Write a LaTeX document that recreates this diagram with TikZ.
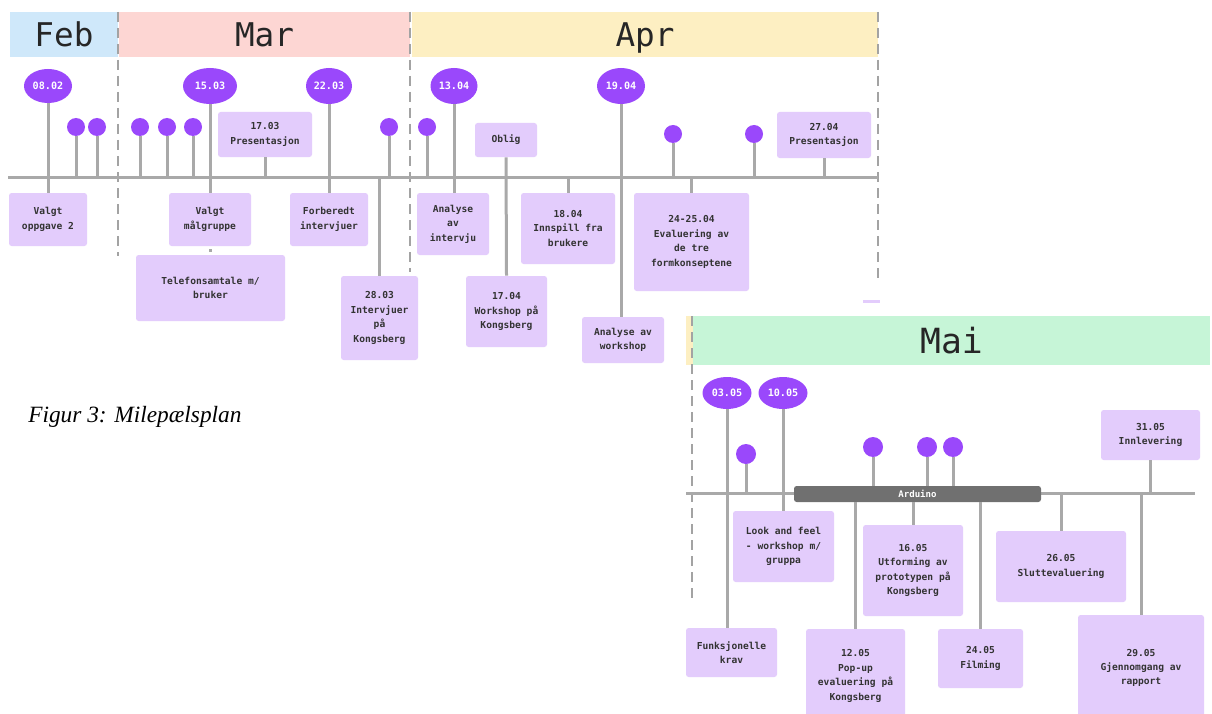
\documentclass[tikz,border=0pt]{standalone}
\usepackage{fontspec}
\setmainfont{Liberation Serif}
\newfontfamily\mono{DejaVu Sans Mono}
\usetikzlibrary{shapes.geometric}
\definecolor{evt}{HTML}{9A48FB}
\definecolor{boxc}{HTML}{E3CCFC}
\definecolor{txt}{HTML}{333333}
\definecolor{mtxt}{HTML}{262626}
\definecolor{lc}{HTML}{A9A9A9}
\definecolor{dc}{HTML}{A3A3A3}
\definecolor{febc}{HTML}{CFE8FA}
\definecolor{marc}{HTML}{FDD6D3}
\definecolor{aprc}{HTML}{FDEFC2}
\definecolor{maic}{HTML}{C6F5D7}
\definecolor{ardc}{HTML}{707070}
\begin{document}
\begin{tikzpicture}[x=0.75pt,y=-0.75pt,
 sz/.style 2 args={minimum width=#1*0.75pt, minimum height=#2*0.75pt},
 box/.style={fill=boxc, rounded corners=2pt, inner sep=0pt, align=center, font=\mono\bfseries\fontsize{7.2}{10.8}\selectfont, text=txt},
 month/.style={inner sep=0pt, text depth=0pt, font=\mono\fontsize{24.5}{24.5}\selectfont, text=mtxt},
 dt/.style={ellipse, fill=evt, inner sep=0pt, text=white, font=\mono\bfseries\fontsize{7.6}{8}\selectfont},
 dot/.style={circle, fill=evt, minimum size=13.5pt, inner sep=0pt},
 stem/.style={draw=lc, line width=2.25pt},
 sep/.style={draw=dc, line width=2pt, dash pattern=on 7.5pt off 4.5pt},
]
\clip (0,0) rectangle (1212,713);
\fill[white] (0,0) rectangle (1212,713);

% ---------- month bars (top) ----------
\node[month, fill=febc, sz={108}{45}] (feb) at (64,34.5) {Feb};
\node[month, fill=marc, sz={291}{45}] (mar) at (264.5,34.5) {Mar};
\node[month, fill=aprc, sz={466}{45}] (apr) at (645,34.5) {Apr};

% separators
\draw[sep] (118,12) -- (118,256);
\draw[sep] (410,12) -- (410,272);
\draw[sep] (878,12) -- (878,280);

% timeline
\coordinate (tlA) at (8,177);
\coordinate (tlB) at (878,177);
\draw[stem] (tlA) -- (tlB);

% ---------- date ellipses (top) ----------
\node[dt, sz={48}{34}] (e0802) at (48,86) {08.02};
\node[dt, sz={54}{36}] (e1503) at (210,86) {15.03};
\node[dt, sz={46}{36}] (e2203) at (329,86) {22.03};
\node[dt, sz={47}{36}] (e1304) at (454,86) {13.04};
\node[dt, sz={48}{36}] (e1904) at (621,86) {19.04};

% small dots (top)
\node[dot] (d1) at (76,127) {};
\node[dot] (d2) at (97,127) {};
\node[dot] (d3) at (140,127) {};
\node[dot] (d4) at (167,127) {};
\node[dot] (d5) at (193,127) {};
\node[dot] (d6) at (389,127) {};
\node[dot] (d7) at (427,127) {};
\node[dot] (d8) at (673,134) {};
\node[dot] (d9) at (754,134) {};

% boxes above line (top)
\node[box, sz={94}{45}] (p1703) at (265,134.5) {17.03\\Presentasjon};
\node[box, sz={62}{34}] (oblig) at (506,140) {Oblig};
\node[box, sz={94}{46}] (p2704) at (824,135) {27.04\\Presentasjon};

% boxes below line (top)
\node[box, sz={78}{53}] (voppg) at (48,219.5) {Valgt\\oppgave 2};
\node[box, sz={82}{53}] (vmal) at (210,219.5) {Valgt\\målgruppe};
\node[box, sz={149}{66}] (tlf) at (210.5,288) {Telefonsamtale m/\\bruker};
\node[box, sz={78}{53}] (forb) at (329,219.5) {Forberedt\\intervjuer};
\node[box, sz={77}{84}] (i2803) at (379.5,318) {28.03\\Intervjuer\\på\\Kongsberg};
\node[box, sz={72}{62}] (aint) at (453,224) {Analyse\\av\\intervju};
\node[box, sz={81}{71}] (w1704) at (506.5,311.5) {17.04\\Workshop på\\Kongsberg};
\node[box, sz={94}{71}] (i1804) at (568,228.5) {18.04\\Innspill fra\\brukere};
\node[box, sz={82}{46}] (aws) at (623,340) {Analyse av\\workshop};
\node[box, sz={115}{98}] (ev2425) at (691.5,242) {24-25.04\\Evaluering av\\de tre\\formkonseptene};

% stems (top)
\foreach \d in {d1,d2,d3,d4,d5,d6,d7,d8,d9}
  \draw[stem] (\d.south) -- (\d.south |- tlA);
\draw[stem] (e0802.south) -- (e0802.south |- voppg.north);
\draw[stem] (e1503.south) -- (e1503.south |- vmal.north);
\draw[stem] (e2203.south) -- (e2203.south |- forb.north);
\draw[stem] (e1304.south) -- (e1304.south |- aint.north);
\draw[stem] (e1904.south) -- (e1904.south |- aws.north);
\draw[stem] (p1703.south) -- (p1703.south |- tlA);
\draw[stem] (p2704.south) -- (p2704.south |- tlA);
\draw[stem] (oblig.south) -- (w1704.north);
\draw[stem] (i2803.north |- tlA) -- (i2803.north);
\draw[stem] (i1804.north |- tlA) -- (i1804.north);
\draw[stem] (ev2425.north |- tlA) -- (ev2425.north);
\draw[stem] (vmal.south) ++(0,3) -- ++(0,3);

% cropped slivers
\fill[boxc] (863,300) rectangle (880,303);
\fill[aprc] (686,316) rectangle (693,365);

% caption
\node[anchor=base west, inner sep=0pt, font=\itshape\fontsize{17.5}{17.5}\selectfont] (cap) at (28,422) {Figur 3: Milepælsplan};

% ---------- Mai ----------
\node[month, fill=maic, sz={517}{49}, font=\mono\fontsize{26}{26}\selectfont] (mai) at (951.5,340.5) {Mai};
\draw[sep] (692,316) -- (692,602);

\coordinate (tmA) at (686,493);
\coordinate (tmB) at (1195,493);
\draw[stem] (tmA) -- (tmB);

\node[dt, sz={49}{32}] (e0305) at (727,393) {03.05};
\node[dt, sz={49}{32}] (e1005) at (783,393) {10.05};

\node[dot, minimum size=15pt] (m1) at (746,454) {};
\node[dot, minimum size=15pt] (m2) at (873,447) {};
\node[dot, minimum size=15pt] (m3) at (927,447) {};
\node[dot, minimum size=15pt] (m4) at (953,447) {};

\node[fill=ardc, rounded corners=2pt, inner sep=0pt, sz={247}{16}, text=white, font=\mono\bfseries\fontsize{6.8}{7}\selectfont] (ard) at (917.5,494) {Arduino};

\node[box, sz={99}{50}] (b3105) at (1150.5,435) {31.05\\Innlevering};
\node[box, sz={91}{49}] (funk) at (731.5,652.5) {Funksjonelle\\krav};
\node[box, sz={101}{71}] (look) at (783.5,546.5) {Look and feel\\- workshop m/\\gruppa};
\node[box, sz={99}{94}] (b1205) at (855.5,676) {12.05\\Pop-up\\evaluering på\\Kongsberg};
\node[box, sz={100}{91}] (b1605) at (913,570.5) {16.05\\Utforming av\\prototypen på\\Kongsberg};
\node[box, sz={85}{59}] (b2405) at (980.5,658.5) {24.05\\Filming};
\node[box, sz={130}{71}] (b2605) at (1061,566.5) {26.05\\Sluttevaluering};
\node[box, sz={126}{106}] (b2905) at (1141,668) {29.05\\Gjennomgang av\\rapport};

% stems (Mai)
\draw[stem] (m1.south) -- (m1.south |- tmA);
\foreach \d in {m2,m3,m4}
  \draw[stem] (\d.south) -- (\d.south |- ard.north);
\draw[stem] (e0305.south) -- (e0305.south |- funk.north);
\draw[stem] (e1005.south) -- (e1005.south |- look.north);
\draw[stem] (b1205.north |- ard.south) -- (b1205.north);
\draw[stem] (b1605.north |- ard.south) -- (b1605.north);
\draw[stem] (b2405.north |- ard.south) -- (b2405.north);
\draw[stem] (b2605.north |- tmA) -- (b2605.north);
\draw[stem] (b2905.north |- tmA) -- (b2905.north);
\draw[stem] (b3105.south) -- (b3105.south |- tmA);
\end{tikzpicture}
\end{document}
